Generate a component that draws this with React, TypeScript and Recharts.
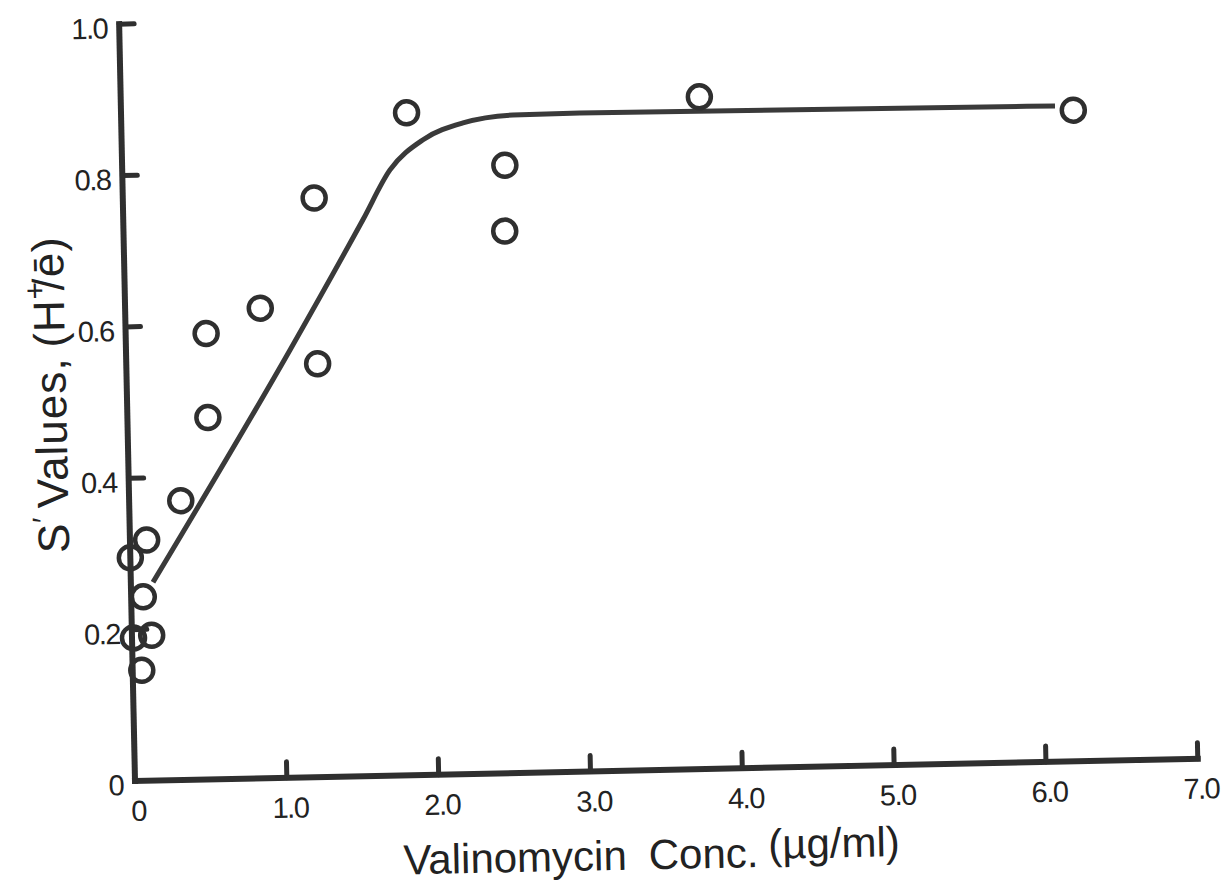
import React from "react";
import { ComposedChart, Line, Scatter, XAxis, YAxis } from "recharts";

// measured points: valinomycin concentration (µg/ml) vs S' (H+/e-)
const conc = [0.0, 0.01, 0.06, 0.08, 0.11, 0.13, 0.34, 0.53, 0.53, 0.89, 1.26, 1.26, 1.88, 2.52, 2.51, 3.81, 6.27];
const sValue = [0.295, 0.189, 0.146, 0.243, 0.318, 0.192, 0.369, 0.589, 0.478, 0.621, 0.765, 0.546, 0.875, 0.803, 0.716, 0.888, 0.86];

// hand-drawn saturation curve
const fitConc = [0.146, 1.08, 1.578, 1.763, 1.985, 2.25, 2.58, 3.02, 6.15];
const fitS = [0.262, 0.565, 0.735, 0.8, 0.839, 0.86, 0.869, 0.87, 0.866];

const xTicks = [0, 1, 2, 3, 4, 5, 6, 7];
const xTickLabels = ["0", "1.0", "2.0", "3.0", "4.0", "5.0", "6.0", "7.0"];
const yTicks = [0, 0.2, 0.4, 0.6, 0.8, 1.0];
const yTickLabels = ["0", "0.2", "0.4", "0.6", "0.8", "1.0"];

const points = conc.map((x, i) => ({ x, y: sValue[i] }));
const curve = fitConc.map((x, i) => ({ x, y: fitS[i] }));

const INK = "#2f2f2f";
const FONT = "'Liberation Sans', Arial, Helvetica, sans-serif";

const W = 1226;
const H = 900;

function XTick(props: any) {
  const { x, y, payload } = props;
  const i = xTicks.indexOf(payload.value);
  return (
    <g>
      {payload.value > 0 && (
        <line x1={x} y1={y} x2={x} y2={y - 16} stroke={INK} strokeWidth={5} strokeLinecap="round" />
      )}
      <text
        x={x + 3}
        y={y + 30}
        textAnchor="middle"
        dominantBaseline="central"
        fontSize={29}
        letterSpacing={-1.5}
        fill="#222"
        fontFamily={FONT}
      >
        {xTickLabels[i]}
      </text>
    </g>
  );
}

function YTick(props: any) {
  const { x, y, payload } = props;
  const i = yTicks.indexOf(payload.value);
  return (
    <g>
      {payload.value > 0 && (
        <line x1={x} y1={y} x2={x + 15} y2={y} stroke={INK} strokeWidth={5} strokeLinecap="round" />
      )}
      <text
        x={x - 12}
        y={y + 4}
        textAnchor="end"
        dominantBaseline="central"
        fontSize={29}
        letterSpacing={-1.5}
        fill="#222"
        fontFamily={FONT}
      >
        {yTickLabels[i]}
      </text>
    </g>
  );
}

function Ring(props: any) {
  const { cx, cy } = props;
  return <circle cx={cx} cy={cy} r={11.5} fill="none" stroke={INK} strokeWidth={4.5} />;
}

export default function App() {
  return (
    <div
      style={{
        position: "fixed",
        left: 0,
        top: 0,
        width: W,
        height: 888,
        overflow: "hidden",
        background: "#fff",
      }}
    >
      {/* the whole sheet sits slightly tilted, pivoting on the origin */}
      <div
        style={{
          position: "absolute",
          left: 0,
          top: 0,
          width: W,
          height: H,
          transform: "rotate(-1.2deg)",
          transformOrigin: "135px 781px",
        }}
      >
        <ComposedChart width={W} height={H} margin={{ top: 24, right: 28, bottom: 0, left: 0 }}>
          <XAxis
            type="number"
            dataKey="x"
            domain={[0, 7]}
            ticks={xTicks}
            interval={0}
            height={119}
            tickSize={0}
            tickMargin={0}
            tickLine={false}
            axisLine={{ stroke: INK, strokeWidth: 6, strokeLinecap: "square" }}
            tick={XTick}
          />
          <YAxis
            type="number"
            domain={[0, 1]}
            ticks={yTicks}
            interval={0}
            width={135}
            tickSize={0}
            tickMargin={0}
            tickLine={false}
            axisLine={{ stroke: INK, strokeWidth: 6, strokeLinecap: "square" }}
            tick={YTick}
          />
          <Line
            data={curve}
            dataKey="y"
            type="monotone"
            stroke="#3a3a3a"
            strokeWidth={5}
            dot={false}
            activeDot={false}
            isAnimationActive={false}
          />
          <Scatter data={points} dataKey="y" shape={Ring} isAnimationActive={false} />
        </ComposedChart>
        <svg
          width={W}
          height={H}
          style={{ position: "absolute", left: 0, top: 0, pointerEvents: "none" }}
        >
          <text
            x={58}
            y={393}
            transform="rotate(-90 58 393)"
            textAnchor="middle"
            dominantBaseline="central"
            fontSize={44}
            letterSpacing={1}
            fill="#222"
            fontFamily={FONT}
          >
            <tspan>S</tspan>
            <tspan dy={-10} fontSize={30}>′</tspan>
            <tspan dy={10} dx={8}>Values,</tspan>
            <tspan dx={10}>(H</tspan>
            <tspan dy={-14} fontSize={30}>+</tspan>
            <tspan dy={14} dx={-10}>/ē)</tspan>
          </text>
          <text x={650} y={880} textAnchor="middle" fontSize={42} fill="#222" fontFamily={FONT}>
            <tspan>Valinomycin</tspan>
            <tspan dx={22}>Conc.</tspan>
            <tspan dx={10} dy={-8}>(µg/ml)</tspan>
          </text>
        </svg>
      </div>
    </div>
  );
}
